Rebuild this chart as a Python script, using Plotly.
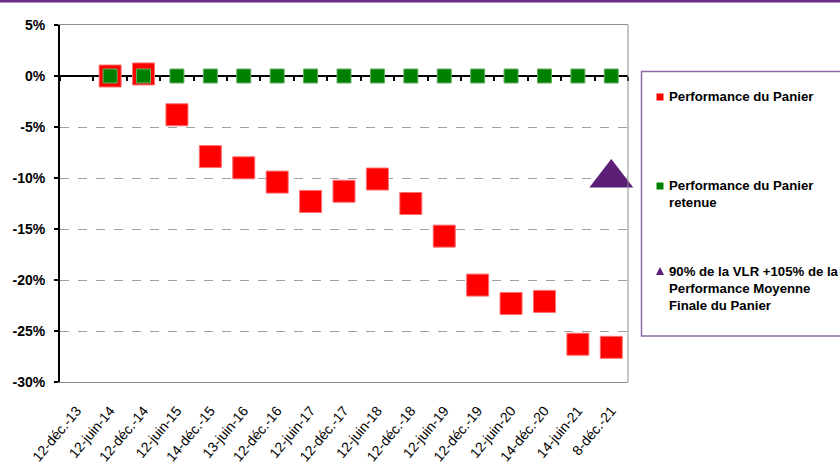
import plotly.graph_objects as go

dates = ["12-déc.-13", "12-juin-14", "12-déc.-14", "12-juin-15", "14-déc.-15",
         "13-juin-16", "12-déc.-16", "12-juin-17", "12-déc.-17", "12-juin-18",
         "12-déc.-18", "12-juin-19", "12-déc.-19", "12-juin-20", "14-déc.-20",
         "14-juin-21", "8-déc.-21"]
obs_dates = dates[1:]
perf_panier = [0.0, 0.2, -3.8, -7.9, -9.0, -10.4, -12.3, -11.3, -10.1, -12.5,
               -15.7, -20.5, -22.3, -22.1, -26.3, -26.6]
perf_retenue = [0, 0, 0, 0, 0, 0, 0, 0, 0, 0, 0, 0, 0, 0, 0, 0]
final_date = ["8-déc.-21"]
final_value = [-10.0]
y_ticks = [5, 0, -5, -10, -15, -20, -25, -30]
y_ticktext = ["5%", "0%", "-5%", "-10%", "-15%", "-20%", "-25%", "-30%"]
legend_names = ["Performance du Panier",
                "Performance du Panier<br>retenue",
                "90% de la VLR +105% de la<br>Performance Moyenne<br>Finale du Panier"]

W, H = 840, 476
L, R, T, B = 60, 212, 25, 94
PW, PH = W - L - R, H - T - B


def px(x):
    return (x - L) / PW


def py(y):
    return (H - B - y) / PH


RED = "#FF0000"
GREEN = "#008000"
PURPLE = "#5B1F78"

fig = go.Figure()
fig.add_trace(go.Scatter(x=obs_dates, y=perf_panier, mode="markers",
                         marker=dict(symbol="square", size=22, color=RED,
                                     line=dict(width=1, color="#FF7070")),
                         name=legend_names[0], cliponaxis=False))
fig.add_trace(go.Scatter(x=obs_dates, y=perf_retenue, mode="markers", xaxis="x2",
                         marker=dict(symbol="square", size=14, color=GREEN,
                                     line=dict(width=1, color="#60B060")),
                         name=legend_names[1], cliponaxis=False))
fig.add_trace(go.Scatter(x=final_date, y=final_value, mode="markers", xaxis="x2",
                         marker=dict(symbol="triangle-up", size=38, color=PURPLE),
                         name=legend_names[2], cliponaxis=False))

fig.update_layout(
    width=W, height=H,
    margin=dict(l=L, r=R, t=T, b=B, autoexpand=False),
    paper_bgcolor="white", plot_bgcolor="white",
    showlegend=False,
    xaxis=dict(type="category", categoryorder="array", categoryarray=dates,
               range=[-0.5, len(dates) - 0.5], showgrid=False, zeroline=False,
               showline=True, linecolor="#8C8C8C", linewidth=1, mirror=True,
               ticks="outside", ticklen=14, tickcolor="rgba(0,0,0,0)", tickangle=-50,
               tickfont=dict(family="Liberation Sans, Arial", size=14, color="black")),
    xaxis2=dict(type="category", categoryorder="array", categoryarray=dates,
                range=[-0.5, len(dates) - 0.5], overlaying="x", anchor="free",
                position=30 / 35, side="bottom",
                showgrid=False, zeroline=False, showline=False,
                showticklabels=False, ticks="outside", ticklen=4, tickwidth=2,
                tickcolor="black", tickson="boundaries"),
    yaxis=dict(range=[-30, 5], tickvals=y_ticks, ticktext=y_ticktext,
               showgrid=True, gridcolor="#A0A0A0", griddash="dash", gridwidth=1,
               zeroline=True, zerolinecolor="black", zerolinewidth=2,
               showline=True, linecolor="black", linewidth=2,
               ticks="outside", ticklen=4, tickwidth=2, tickcolor="black",
               ticklabelstandoff=6,
               tickfont=dict(family="Liberation Sans, Arial", size=14,
                             color="black", weight="bold")),
)

shapes = []
shapes.append(dict(type="line", xref="paper", yref="paper", x0=1, x1=1, y0=0, y1=1,
                   line=dict(color="#8C8C8C", width=1)))
shapes.append(dict(type="line", xref="paper", yref="paper", x0=px(0), x1=px(W),
                   y0=py(1), y1=py(1), line=dict(color="#6B2C8B", width=3)))
shapes.append(dict(type="rect", xref="paper", yref="paper", x0=px(641.5), x1=px(850),
                   y0=py(336), y1=py(71.5), line=dict(color="#8A6AA8", width=1.5),
                   fillcolor="white", layer="below"))
for cy, col in [(97, RED), (186, GREEN)]:
    shapes.append(dict(type="rect", xref="paper", yref="paper",
                       x0=px(656.5), x1=px(663.5), y0=py(cy + 3.5), y1=py(cy - 3.5),
                       line=dict(width=0), fillcolor=col))
shapes.append(dict(type="path", xref="paper", yref="paper",
                   path=f"M {px(656)},{py(275)} L {px(664)},{py(275)} L {px(660)},{py(267)} Z",
                   line=dict(width=0), fillcolor=PURPLE))
fig.update_layout(shapes=shapes)

lfont = dict(family="Liberation Sans, Arial", size=13.2, color="black", weight="bold")
for cy, txt in [(97, legend_names[0]), (194, legend_names[1]), (288, legend_names[2])]:
    fig.add_annotation(xref="paper", yref="paper", x=px(667), y=py(cy), text=txt,
                       showarrow=False, xanchor="left", yanchor="middle", align="left",
                       font=lfont)

fig.write_html("out.html", config={"displayModeBar": False},
               post_script="document.body.style.margin='0';document.body.style.overflow='hidden';")
